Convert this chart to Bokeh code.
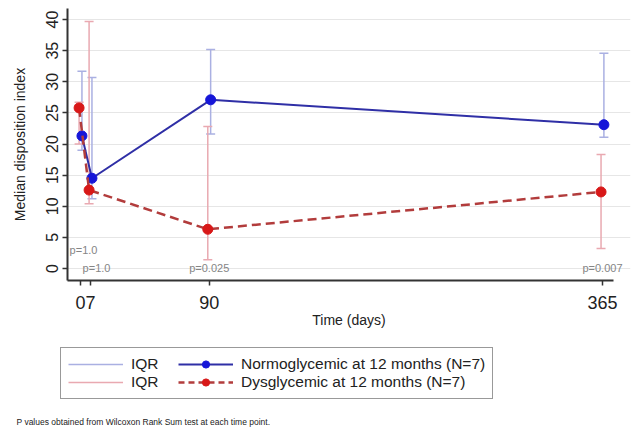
from bokeh.plotting import figure
from bokeh.layouts import column
from bokeh.models import FixedTicker, Legend, LegendItem, Label, Range1d, ColumnDataSource
from bokeh.transform import dodge
from bokeh.core.properties import value
from bokeh.embed import file_html
from bokeh.resources import INLINE

# ---- data ----
days = [0, 7, 90, 365]
normo_median = [21.3, 14.5, 27.1, 23.1]
normo_q1 = [19.0, 11.2, 21.6, 21.1]
normo_q3 = [31.7, 30.7, 35.2, 34.6]
dys_median = [25.8, 12.6, 6.3, 12.3]
dys_q1 = [20.0, 10.4, 1.4, 3.2]
dys_q3 = [26.7, 39.7, 22.8, 18.3]
pval_text = ["p=1.0", "p=1.0", "p=0.025", "p=0.007"]
pval_day = [0, 7, 90, 365]
pval_y = [3, 0, 0, 0]
x_ticks = [0, 7, 90, 365]
y_ticks = [0, 5, 10, 15, 20, 25, 30, 35, 40]

FONT = "Liberation Sans"
BLUE_LINE = "#2f2fa6"
BLUE_PT = "#1616d8"
BLUE_IQR = "#aab0e2"
RED_LINE = "#b23c3c"
RED_PT = "#d81818"
RED_IQR = "#e9a9b1"

X_LO, X_HI = -9.1, 372.7

normo = ColumnDataSource(dict(day=days, med=normo_median, lo=normo_q1, hi=normo_q3))
dys = ColumnDataSource(dict(day=days, med=dys_median, lo=dys_q1, hi=dys_q3))
pv = ColumnDataSource(dict(day=pval_day, y=pval_y, text=pval_text, dx=[3, 6, 0, 0]))

p = figure(width=632, height=335, output_backend="svg", toolbar_location=None,
           x_range=Range1d(X_LO, 384.6), y_range=Range1d(-1.93, 41.77),
           min_border_left=67, min_border_right=2, min_border_top=8, min_border_bottom=55)
p.frame_align = False
p.outline_line_color = None
p.background_fill_color = "white"
p.border_fill_color = "white"
p.xgrid.grid_line_color = None
p.ygrid.grid_line_color = "#e6e6e6"
p.ygrid.grid_line_width = 1
p.ygrid.ticker = FixedTicker(ticks=y_ticks)
p.ygrid.bounds = (X_LO, X_HI)

# axes
p.xaxis.ticker = FixedTicker(ticks=x_ticks)
p.xaxis.bounds = (X_LO, X_HI)
p.yaxis.ticker = FixedTicker(ticks=y_ticks)
for ax in (p.xaxis, p.yaxis):
    ax.axis_line_color = "#333333"
    ax.axis_line_width = 2
    ax.major_tick_line_color = "#333333"
    ax.major_tick_line_width = 1.5
    ax.major_tick_out = 5
    ax.major_tick_in = 0
    ax.minor_tick_line_color = None
    ax.major_label_text_font = FONT
    ax.major_label_text_color = "#222222"
    ax.axis_label_text_font = FONT
    ax.axis_label_text_font_style = "normal"
    ax.axis_label_text_color = "#222222"
    ax.axis_label_text_font_size = "14px"
p.xaxis.major_label_text_font_size = "18px"
p.xaxis.major_label_standoff = 10
p.xaxis.axis_label = "Time (days)"
p.xaxis.axis_label_standoff = 0
p.yaxis.major_label_text_font_size = "16px"
p.yaxis.major_label_orientation = "vertical"
p.yaxis.major_label_standoff = 4
p.yaxis.axis_label = "Median disposition index"
p.yaxis.axis_label_standoff = 16

# IQR bars
bx = dodge("day", 1.0, range=None)
rx = dodge("day", -1.0, range=None)
p.segment(x0=bx, x1=bx, y0="lo", y1="hi", source=normo, line_color=BLUE_IQR, line_width=1.5)
p.scatter(x=bx, y="lo", source=normo, marker="dash", size=9, line_color=BLUE_IQR, line_width=1.5)
p.scatter(x=bx, y="hi", source=normo, marker="dash", size=9, line_color=BLUE_IQR, line_width=1.5)
p.segment(x0=rx, x1=rx, y0="lo", y1="hi", source=dys, line_color=RED_IQR, line_width=1.5)
p.scatter(x=rx, y="lo", source=dys, marker="dash", size=9, line_color=RED_IQR, line_width=1.5)
p.scatter(x=rx, y="hi", source=dys, marker="dash", size=9, line_color=RED_IQR, line_width=1.5)

# median lines
p.line(x=bx, y="med", source=normo, line_color=BLUE_LINE, line_width=2)
p.scatter(x=bx, y="med", source=normo, size=10, fill_color=BLUE_PT, line_color=BLUE_PT)
p.line(x=rx, y="med", source=dys, line_color=RED_LINE, line_width=2.5, line_dash="9 5")
p.scatter(x=rx, y="med", source=dys, size=10, fill_color=RED_PT, line_color=RED_PT)

# p-values
p.text(x="day", y="y", text="text", source=pv, x_offset="dx", text_align="center",
       text_baseline="middle", text_font=value(FONT), text_font_size="11px", text_color="#858585")

# ---- legend / footnote panel ----
q = figure(width=632, height=95, output_backend="svg", toolbar_location=None,
           x_range=Range1d(0, 632), y_range=Range1d(95, 0),
           x_axis_type=None, y_axis_type=None,
           min_border_left=0, min_border_right=0, min_border_top=0, min_border_bottom=0)
q.frame_align = False
q.outline_line_color = None
q.grid.grid_line_color = None
q.background_fill_color = "white"
q.border_fill_color = "white"

# legend sample renderers (hidden; only their legend swatches are shown)
lseg_b = q.segment(x0="day", x1="day", y0="lo", y1="hi", source=normo,
                   line_color=BLUE_IQR, line_width=1.5, visible=False)
lseg_r = q.segment(x0="day", x1="day", y0="lo", y1="hi", source=dys,
                   line_color=RED_IQR, line_width=1.5, visible=False)
lln_b = q.line(x="day", y="med", source=normo, line_color=BLUE_LINE, line_width=2, visible=False)
lpt_b = q.scatter(x="day", y="med", source=normo, size=10, fill_color=BLUE_PT,
                  line_color=BLUE_PT, visible=False)
lln_r = q.line(x="day", y="med", source=dys, line_color=RED_LINE, line_width=2.5,
               line_dash="6 4", visible=False)
lpt_r = q.scatter(x="day", y="med", source=dys, size=10, fill_color=RED_PT,
                  line_color=RED_PT, visible=False)

legend = Legend(items=[
    LegendItem(label="IQR", renderers=[lseg_b]),
    LegendItem(label="IQR", renderers=[lseg_r]),
    LegendItem(label="Normoglycemic at 12 months (N=7)", renderers=[lln_b, lpt_b]),
    LegendItem(label="Dysglycemic at 12 months (N=7)", renderers=[lln_r, lpt_r]),
], location=(60, 31), orientation="vertical", ncols=2)
legend.label_text_font = FONT
legend.label_text_font_size = "15.5px"
legend.label_text_color = "#222222"
legend.glyph_width = 55
legend.glyph_height = 18
legend.label_height = 18
legend.label_width = 47
legend.label_standoff = 8
legend.spacing = 0
legend.padding = 7
legend.margin = 0
legend.inactive_fill_alpha = 0
legend.border_line_color = "#333333"
legend.border_line_width = 1.5
legend.background_fill_color = "white"
legend.background_fill_alpha = 1
q.add_layout(legend, "center")

note = Label(x=16, y=4, x_units="screen", y_units="screen",
             text="P values obtained from Wilcoxon Rank Sum test at each time point.",
             text_font=FONT, text_font_size="8.5px", text_color="#222222",
             text_baseline="bottom", text_align="left")
q.add_layout(note)

layout = column(p, q, spacing=0)
open("out.html", "w").write(file_html(layout, INLINE))
